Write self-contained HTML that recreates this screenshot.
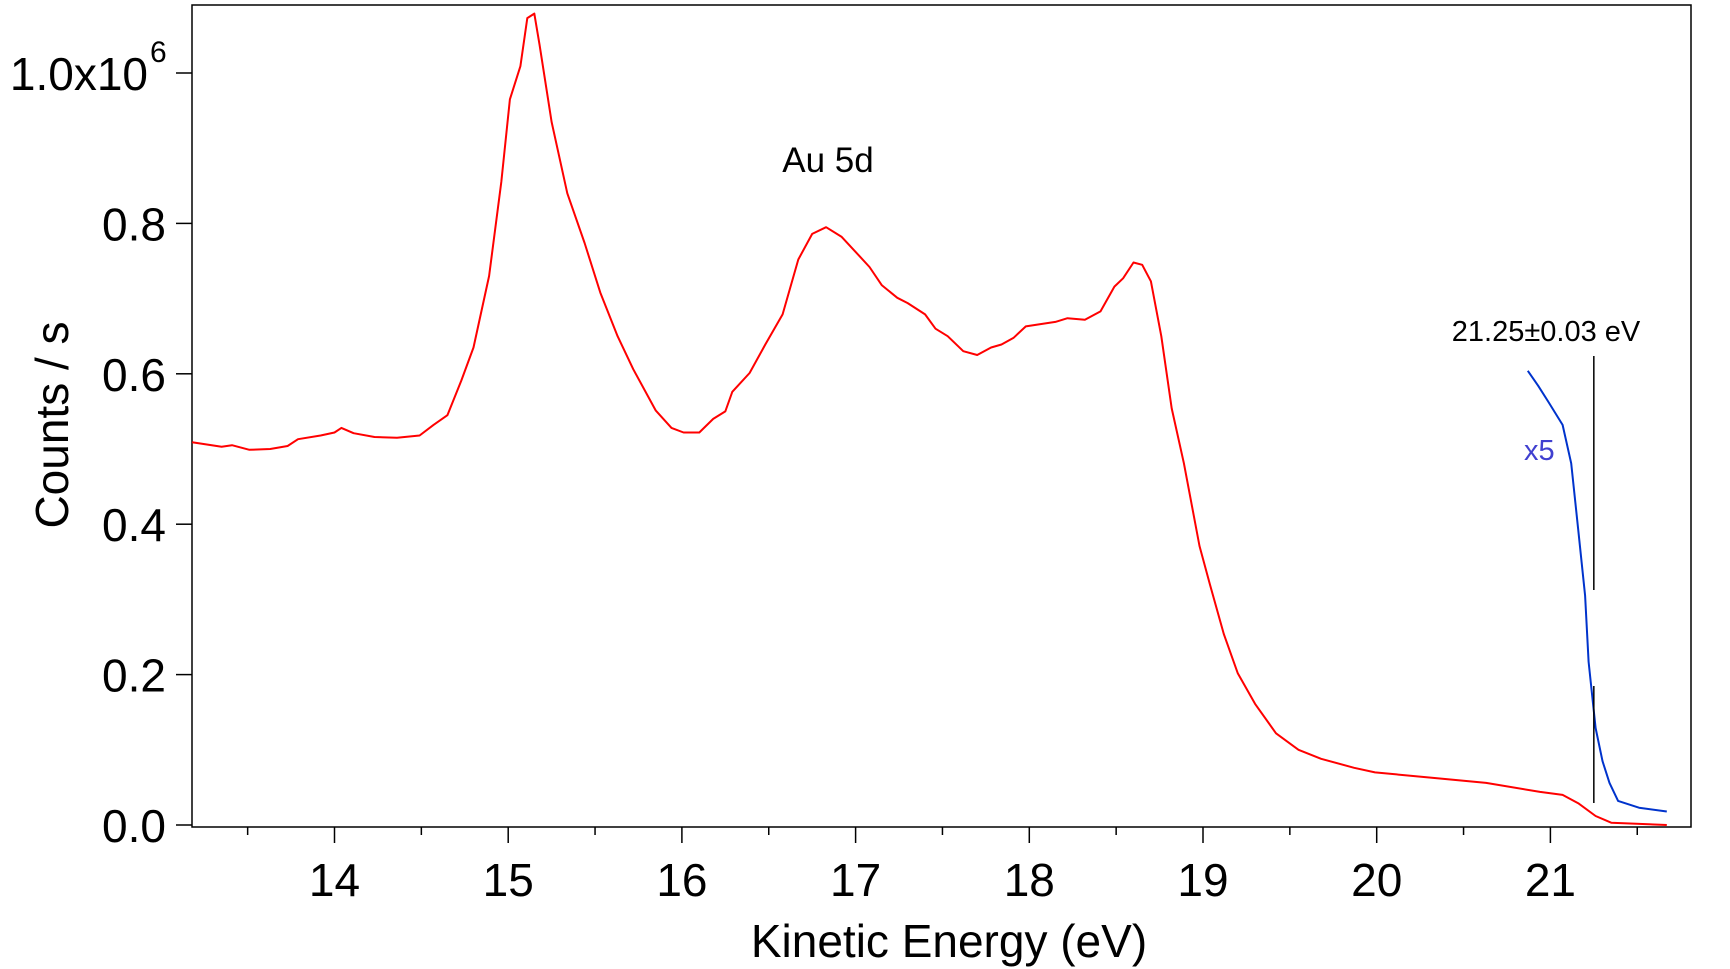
<!DOCTYPE html>
<html><head><meta charset="utf-8"><style>
html,body{margin:0;padding:0;background:#fff;}
svg{display:block;font-family:"Liberation Sans",Arial,sans-serif;}
</style></head><body>
<svg id="chart" width="1730" height="969" viewBox="0 0 1730 969" xmlns="http://www.w3.org/2000/svg">
<rect x="0" y="0" width="1730" height="969" fill="#fff"/>
<g id="plot"></g>
</svg>
<script>
const redEnergy=[13.18,13.35,13.41,13.51,13.63,13.73,13.79,13.92,14.0,14.04,14.11,14.23,14.36,14.49,14.57,14.65,14.73,14.80,14.89,14.96,15.01,15.07,15.11,15.15,15.18,15.25,15.34,15.44,15.53,15.63,15.72,15.85,15.94,16.01,16.10,16.18,16.25,16.29,16.39,16.48,16.58,16.67,16.75,16.83,16.92,17.02,17.08,17.15,17.24,17.30,17.40,17.46,17.53,17.62,17.70,17.78,17.84,17.91,17.98,18.06,18.15,18.22,18.32,18.41,18.49,18.54,18.60,18.65,18.70,18.76,18.82,18.89,18.98,19.04,19.12,19.20,19.30,19.42,19.55,19.68,19.87,19.99,20.31,20.63,20.94,21.07,21.16,21.26,21.35,21.67];
const redCounts=[0.509,0.503,0.505,0.499,0.500,0.504,0.513,0.518,0.522,0.528,0.521,0.516,0.515,0.518,0.532,0.545,0.591,0.635,0.730,0.855,0.965,1.009,1.073,1.079,1.038,0.935,0.840,0.774,0.708,0.650,0.606,0.551,0.528,0.522,0.522,0.540,0.550,0.576,0.601,0.639,0.679,0.752,0.786,0.795,0.782,0.757,0.742,0.718,0.701,0.694,0.679,0.660,0.650,0.630,0.625,0.635,0.639,0.648,0.663,0.666,0.669,0.674,0.672,0.683,0.716,0.727,0.748,0.745,0.723,0.650,0.554,0.481,0.371,0.320,0.254,0.202,0.161,0.122,0.100,0.088,0.076,0.070,0.063,0.056,0.044,0.040,0.029,0.012,0.003,0.000];
const blueEnergy=[20.87,20.93,20.99,21.07,21.12,21.16,21.20,21.22,21.26,21.30,21.34,21.39,21.51,21.67];
const blueCounts=[0.604,0.584,0.562,0.532,0.481,0.393,0.305,0.217,0.129,0.085,0.056,0.032,0.023,0.018];
const xTicks=[14,15,16,17,18,19,20,21];
const xMinor=[13.5,14.5,15.5,16.5,17.5,18.5,19.5,20.5,21.5];
const yTicks=[0,0.2,0.4,0.6,0.8,1.0];
const yTickLabels=["0.0","0.2","0.4","0.6","0.8","1.0x10"];
const markerEnergy=21.25;

const L=192,R=1691,T=5,B=827;
const X=e=>334.5+(e-14)*173.7;
const Y=c=>825-c*752;
const NS="http://www.w3.org/2000/svg";
const g=document.getElementById('plot');
function mk(tag,attrs,parent){const el=document.createElementNS(NS,tag);for(const k in attrs)el.setAttribute(k,attrs[k]);(parent||g).appendChild(el);return el;}

const frame=mk('rect',{x:L,y:T,width:R-L,height:B-T,fill:'none',stroke:'#000','stroke-width':1.5});



xTicks.forEach((t,i)=>{
  const ln=mk('line',{x1:X(t),x2:X(t),y1:B,y2:B+16,stroke:'#000','stroke-width':1.5});
  
  
  const tx=mk('text',{x:X(t),y:896,'text-anchor':'middle','font-size':46,fill:'#000'});
  tx.textContent=t;
  
  
});
xMinor.forEach(t=>{
  const ln=mk('line',{x1:X(t),x2:X(t),y1:B,y2:B+8,stroke:'#000','stroke-width':1.5});
  
  
});
yTicks.forEach((t,i)=>{
  const ln=mk('line',{x1:176,x2:L,y1:Y(t),y2:Y(t),stroke:'#000','stroke-width':1.5});
  
  
  const isTop=i===yTicks.length-1;
  const tx=mk('text',{x:isTop?148:166,y:Y(t)+17,'text-anchor':'end','font-size':46,fill:'#000'});
  tx.textContent=yTickLabels[i];
  
  
  if(isTop){
    const sup=mk('text',{x:150,y:Y(t)-11,'text-anchor':'start','font-size':30,fill:'#000'});
    sup.textContent='6';
    
    
  }
});

function line(xs,ys,color,name){
  const d=xs.map((e,i)=>(i?'L':'M')+X(e).toFixed(1)+','+Y(ys[i]).toFixed(1)).join(' ');
  const p=mk('path',{d:d,fill:'none',stroke:color,'stroke-width':2,'stroke-linejoin':'round'});
  
  
}
line(redEnergy,redCounts,'#ff0000','red-spectrum-line');
line(blueEnergy,blueCounts,'#0033cc','blue-x5-line');

const m1=mk('line',{x1:X(markerEnergy),x2:X(markerEnergy),y1:356,y2:590,stroke:'#000','stroke-width':1.5});


const m2=mk('line',{x1:X(markerEnergy),x2:X(markerEnergy),y1:686,y2:803,stroke:'#000','stroke-width':1.5});



function label(txt,x,y,size,anchor,fill,name,extra){
  const t=mk('text',Object.assign({x:x,y:y,'font-size':size,'text-anchor':anchor,fill:fill},extra||{}));
  t.textContent=txt;
  
  
}
label('Au 5d',828,172,35,'middle','#000','au-5d-label');
label('21.25±0.03 eV',1546,341,29,'middle','#000','fermi-edge-label');
label('x5',1524,460,29,'start','#4040d0','x5-label');
label('Kinetic Energy (eV)',949,957,46,'middle','#000','x-axis-title');
label('Counts / s',68,425,46,'middle','#000','y-axis-title',{transform:'rotate(-90 68 425)'});
</script>
</body></html>
